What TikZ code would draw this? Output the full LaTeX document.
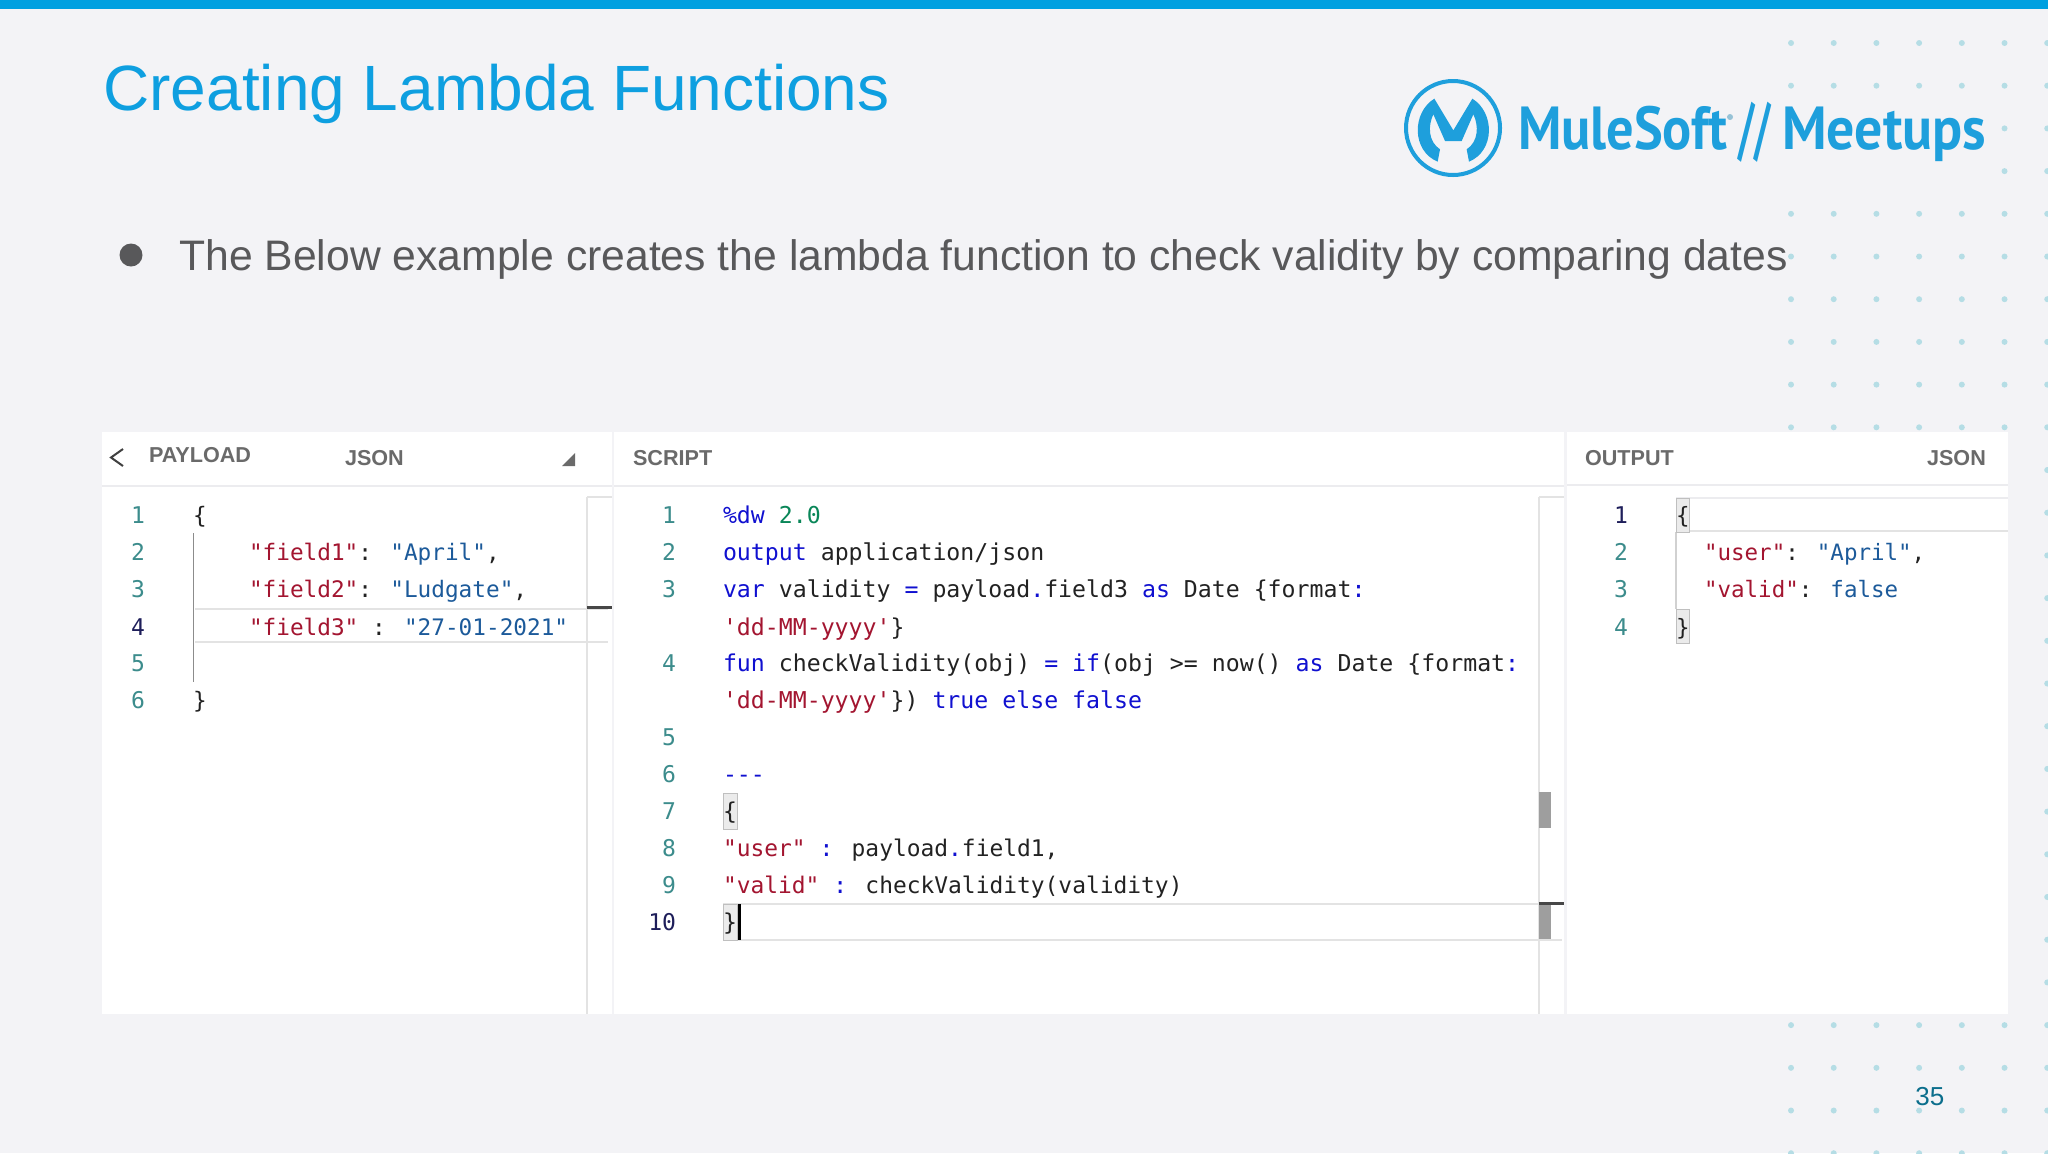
\documentclass[tikz,border=0pt]{standalone}
\usepackage{fontspec}
\usepackage{graphicx}
\setmainfont{Liberation Sans}
\newfontfamily\codefont[Scale=1]{DejaVu Sans Mono}
\newfontfamily\logofont{PT Sans}
\definecolor{pagebg}{HTML}{F3F3F6}
\definecolor{topbar}{HTML}{00A0E0}
\definecolor{titleblue}{HTML}{0E9FE0}
\definecolor{bodygrey}{HTML}{58585A}
\definecolor{dotc}{HTML}{B5DDE5}
\definecolor{hdgrey}{HTML}{6A6A6A}
\definecolor{rulegrey}{HTML}{ECECEF}
\definecolor{numteal}{HTML}{3C8C8C}
\definecolor{numdark}{HTML}{1E1E5A}
\definecolor{keyred}{HTML}{A31530}
\definecolor{valblue}{HTML}{1C5A9A}
\definecolor{kwblue}{HTML}{1010D0}
\definecolor{vergreen}{HTML}{098658}
\definecolor{inkc}{HTML}{222222}
\definecolor{pageno}{HTML}{0B6E8C}
\definecolor{logoblue}{HTML}{1E9FDC}
\newcommand{\kk}[1]{\textcolor{keyred}{#1}}
\newcommand{\vv}[1]{\textcolor{valblue}{#1}}
\newcommand{\kw}[1]{\textcolor{kwblue}{#1}}
\newcommand{\gr}[1]{\textcolor{vergreen}{#1}}
\tikzset{
  panel/.style={fill=white,draw=none},
  code/.style={anchor=base west,inner sep=0pt,outer sep=0pt,text=inkc,font=\fontsize{11.6}{12}\codefont},
  codel/.style={code,font=\fontsize{11.36}{12}\codefont},
  coder/.style={code,font=\fontsize{11.25}{12}\codefont},
  codeb/.style={code,font=\fontsize{11.45}{12}\codefont},
  lnum/.style={anchor=base east,inner sep=0pt,outer sep=0pt,text=numteal,font=\fontsize{11.52}{12}\codefont},
  lnuma/.style={lnum,text=numdark},
  hdr/.style={anchor=base west,inner sep=0pt,outer sep=0pt,text=hdgrey,font=\fontsize{10.8}{12}\selectfont\bfseries},
  thinrule/.style={draw=rulegrey,line width=1pt},
  gutter/.style={draw=black!11,line width=0.6pt},
  lineband/.style={draw=black!11,line width=1.1pt},
  bracket/.style={fill=black!8,draw=black!25,line width=0.5pt},
  thumb/.style={fill=black!38,draw=none},
  overview/.style={fill=black!72,draw=none},
  logo/.style={anchor=base west,inner sep=0pt,outer sep=0pt,text=logoblue,font=\fontsize{29.5}{30}\logofont\bfseries}
}
\begin{document}
\begin{tikzpicture}[x=0.5pt,y=-0.5pt]
\useasboundingbox (0,0) rectangle (2048,1153);
\fill[pagebg] (0,0) rectangle (2048,1153);
\fill[topbar] (0,0) rectangle (2048,9);
% dots
\foreach \j in {0,...,26}{
  \foreach \i in {0,...,6}{
    \pgfmathsetmacro{\dx}{1791+42.7*\i}
    \pgfmathsetmacro{\dy}{43+42.7*\j}
    \fill[dotc] (\dx,\dy) circle[radius=3];
  }
}
% logo backdrop hides the dots behind it
\fill[pagebg] (1400,105) rectangle (1995,185);
% title and bullet
\node[anchor=base west,inner sep=0pt,text=titleblue,font=\fontsize{32}{36}\selectfont] (title) at (103,110) {Creating Lambda Functions};
\fill[bodygrey] (131,255) circle[radius=11.5];
\node[anchor=base west,inner sep=0pt,text=bodygrey,font=\fontsize{21.34}{26}\selectfont] (bullet) at (179,270) {The Below example creates the lambda function to check validity by comparing dates};
% logo
\draw[logoblue,line width=2pt] (1453,128) circle[radius=47];
\begin{scope}[shift={(1395,71)},scale=0.3333]
\fill[logoblue] (118,83) -- (175,178) -- (232,83)
  .. controls (300,125) and (300,240) .. (222,272) -- (215,235)
  .. controls (250,212) and (252,165) .. (235,130) -- (200,210) -- (150,210) -- (115,130)
  .. controls (98,165) and (100,212) .. (135,235) -- (128,272)
  .. controls (50,240) and (50,125) .. (118,83) -- cycle;
\end{scope}
\node[logo] (mule) at (1518,149) {\scalebox{0.92}[1.03]{MuleSoft}};
\fill[black!25!logoblue!45!white] (1730,117) circle[radius=3];
\node[logo] (slashes) at (1738,152) {\scalebox{0.68}[1.2]{//}};
\node[logo] (meetups) at (1782,149) {\scalebox{0.945}[1.03]{Meetups}};
% panels
\fill[panel] (102,432) rectangle (612,1014);
\fill[panel] (614,432) rectangle (1564,1014);
\fill[panel] (1567,432) rectangle (2008,1014);
\draw[thinrule] (102,486) -- (612,486);
\draw[thinrule] (614,486) -- (1564,486);
\draw[thinrule] (1567,485) -- (2008,485);
% left panel
\draw[gutter] (587,497) -- (587,1014);
\draw[gutter] (587,497) -- (612,497);
\draw[lineband] (195,609) -- (608,609);
\draw[lineband] (195,642) -- (608,642);
\draw[black!45,line width=0.7pt] (193.5,533) -- (193.5,682);
\fill[overview] (587,605.5) rectangle (612,608.5);
\draw[black!75,line width=1pt] (123,449) -- (111,457.5) -- (123,466);
\fill[hdgrey] (575,453) -- (575,466) -- (562,466) -- cycle;
\node[hdr] (h1) at (149,462) {PAYLOAD};
\node[hdr] (h2) at (345,465) {JSON};
\node[lnum] (l1) at (145,523) {1};
\node[lnum] (l2) at (145,560) {2};
\node[lnum] (l3) at (145,597) {3};
\node[lnuma] (l4) at (145,635) {4};
\node[lnum] (l5) at (145,671) {5};
\node[lnum] (l6) at (145,708) {6};
\node[codel] (a1) at (193,523) {\{};
\node[codel] (a2) at (249,560) {\kk{"field1"}: \vv{"April"},};
\node[codel] (a3) at (249,597) {\kk{"field2"}: \vv{"Ludgate"},};
\node[codel] (a4) at (249,635) {\kk{"field3"} : \vv{"27-01-2021"}};
\node[codel] (a6) at (193,708) {\}};
% middle panel
\draw[gutter] (1539,497) -- (1539,1014);
\draw[gutter] (1539,497) -- (1564,497);
\draw[lineband] (723,904) -- (1539,904);
\draw[lineband] (723,940) -- (1562,940);
\fill[thumb] (1539,792) rectangle (1551,828);
\fill[thumb] (1539,904) rectangle (1551,939);
\fill[overview] (1539,901.5) rectangle (1564,904.5);
\draw[bracket] (723.5,793) rectangle (737.5,829);
\draw[bracket] (723.5,904) rectangle (737.5,940);
\node[hdr] (h3) at (633,465) {SCRIPT};
\node[lnum] (m1) at (676,523) {1};
\node[lnum] (m2) at (676,560) {2};
\node[lnum] (m3) at (676,597) {3};
\node[lnum] (m4) at (676,671) {4};
\node[lnum] (m5) at (676,745) {5};
\node[lnum] (m6) at (676,782) {6};
\node[lnum] (m7) at (676,819) {7};
\node[lnum] (m8) at (676,856) {8};
\node[lnum] (m9) at (676,893) {9};
\node[lnuma] (m10) at (676,930) {10};
\node[code] (b1) at (723,523) {\kw{\%dw} \gr{2.0}};
\node[code] (b2) at (723,560) {\kw{output} application/json};
\node[code] (b3) at (723,597) {\kw{var} validity \kw{=} payload\kw{.}field3 \kw{as} Date \{format\kw{:}};
\node[code] (b3w) at (723,635) {\kk{'dd-MM-yyyy'}\}};
\node[code] (b4) at (723,671) {\kw{fun} checkValidity(obj) \kw{=} \kw{if}(obj >= now() \kw{as} Date \{format\kw{:}};
\node[code] (b4w) at (723,708) {\kk{'dd-MM-yyyy'}\}) \kw{true} \kw{else} \kw{false}};
\node[code] (b6) at (723,782) {\kw{---}};
\node[code] (b7) at (723,819) {\{};
\node[codeb] (b8) at (723,856) {\kk{"user"} \kw{:} payload\kw{.}field1,};
\node[codeb] (b9) at (723,893) {\kk{"valid"} \kw{:} checkValidity(validity)};
\node[code] (b10) at (723,930) {\}};
\draw[black,line width=1.3pt] (739.5,904) -- (739.5,940);
% right panel
\draw[thinrule] (1676,498) -- (2008,498);
\draw[lineband] (1689,531) -- (2008,531);
\draw[black!18,line width=0.7pt] (1676,532) -- (1676,609);
\draw[bracket] (1676,498) rectangle (1689,532);
\draw[bracket] (1676,609) rectangle (1689,643.5);
\node[hdr] (h4) at (1585,465) {OUTPUT};
\node[hdr] (h5) at (1927,465) {JSON};
\node[lnuma] (r1) at (1628,523) {1};
\node[lnum] (r2) at (1628,560) {2};
\node[lnum] (r3) at (1628,597) {3};
\node[lnum] (r4) at (1628,635) {4};
\node[coder] (c1) at (1676,523) {\{};
\node[coder] (c2) at (1704,560) {\kk{"user"}: \vv{"April"},};
\node[coder] (c3) at (1704,597) {\kk{"valid"}: \vv{false}};
\node[coder] (c4) at (1676,635) {\}};
% page number
\node[anchor=base west,inner sep=0pt,text=pageno,font=\fontsize{13}{14}\selectfont] (page) at (1915,1105) {35};
\end{tikzpicture}
\end{document}
